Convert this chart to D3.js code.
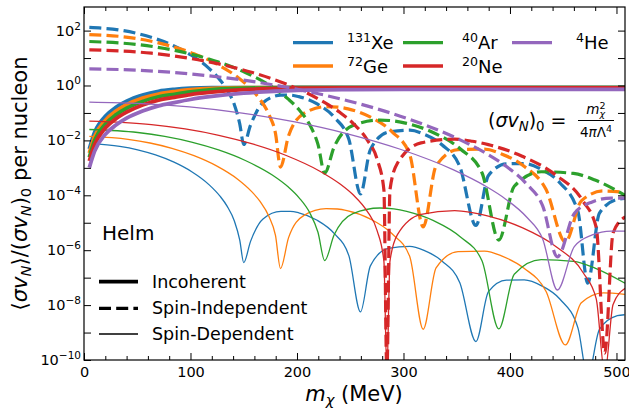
<!DOCTYPE html>
<html><head><meta charset="utf-8">
<script src="https://cdn.jsdelivr.net/npm/d3@7"></script>
<style>
body{margin:0;background:#fff;}
svg{display:block;font-family:"DejaVu Sans",sans-serif;}
</style></head><body>
<svg id="chart" width="629" height="411"></svg>
<script>
// ---------------- data ----------------
const massNumbers = ["131", "72", "40", "20", "4"];
const elements = ["Xe", "Ge", "Ar", "Ne", "He"];
const xMajorTicks = [0, 100, 200, 300, 400, 500];
const yTickExponents = [-10, -9, -8, -7, -6, -5, -4, -3, -2, -1, 0, 1, 2];
const styleLabels = ["Incoherent", "Spin-Independent", "Spin-Dependent"];

// [m_chi (MeV), <sigma v_N>/(sigma v_N)_0]
const xeIncoherent = [[5,4.90e-3],[10,2.00e-2],[15,4.37e-2],[20,7.59e-2],[30,1.62e-1],[40,2.69e-1],[55,4.47e-1],[70,6.17e-1],[85,7.24e-1],[100,7.94e-1],[120,8.32e-1],[150,8.41e-1],[250,8.51e-1],[400,8.51e-1],[508,8.51e-1]];
const geIncoherent = [[5,3.47e-3],[10,1.38e-2],[20,5.37e-2],[30,1.17e-1],[40,2.00e-1],[55,3.47e-1],[70,4.90e-1],[85,6.03e-1],[100,7.00e-1],[120,7.85e-1],[150,8.32e-1],[250,8.41e-1],[508,8.41e-1]];
const arIncoherent = [[5,2.45e-3],[10,1.00e-2],[20,3.89e-2],[30,8.51e-2],[40,1.48e-1],[55,2.63e-1],[70,3.89e-1],[85,4.79e-1],[100,5.82e-1],[120,7.08e-1],[150,7.94e-1],[200,8.32e-1],[508,8.32e-1]];
const neIncoherent = [[5,1.78e-3],[10,7.08e-3],[20,2.82e-2],[30,6.17e-2],[40,1.07e-1],[55,1.95e-1],[70,2.95e-1],[85,3.72e-1],[100,4.68e-1],[120,5.75e-1],[150,7.08e-1],[200,7.94e-1],[250,8.13e-1],[508,8.22e-1]];
const heIncoherent = [[5,1.02e-3],[10,4.07e-3],[20,1.66e-2],[30,3.63e-2],[40,6.46e-2],[55,1.17e-1],[70,1.82e-1],[85,2.40e-1],[100,3.09e-1],[120,3.98e-1],[150,5.25e-1],[200,6.61e-1],[250,7.08e-1],[300,7.24e-1],[508,7.24e-1]];

const xeSI = [[5,1.30e2],[33.6,1.045e2],[50.4,7.80e1],[67.2,5.08e1],[84,2.82e1],[100.8,1.265e1],[117.6,4.12],[127.7,1.60],[134.5,6.81e-1],[141.2,2.00e-1],[146.2,4.11e-2],[150,7.08e-3],[156.3,3.52e-2],[168.1,2.37e-1],[184.9,4.43e-1],[193.6,4.46e-1],[201.7,3.94e-1],[218.5,2.17e-1],[235.3,6.75e-2],[248.7,1.09e-2],[259.6,1.12e-4],[268.9,4.62e-3],[285.7,2.00e-2],[305.9,2.37e-2],[319.3,1.69e-2],[336.1,6.92e-3],[352.9,1.11e-3],[368,7.94e-6],[379.8,5.30e-4],[396.6,1.40e-3],[413.4,1.43e-3],[430.2,8.49e-4],[447,2.82e-4],[463.8,2.55e-5],[473,6.31e-8],[484,2.23e-5],[500.8,7.06e-5],[507.5,7.64e-5]];
const geSI = [[5,7.19e1],[41.3,5.68e1],[62,4.17e1],[82.6,2.66e1],[103.3,1.435e1],[124,6.24],[144.6,1.95],[157,7.38e-1],[165.3,3.09e-1],[173.6,8.89e-2],[179.8,1.80e-2],[184.5,1.07e-3],[192.1,1.49e-2],[206.6,9.64e-2],[227.3,1.69e-1],[238,1.64e-1],[247.9,1.41e-1],[268.6,7.19e-2],[289.3,2.06e-2],[305.8,3.10e-3],[318.5,7.08e-6],[330.6,1.18e-3],[351.2,4.61e-3],[376,4.81e-3],[392.6,3.15e-3],[413.2,1.14e-3],[433.9,1.62e-4],[452,2.00e-6],[467,6.27e-5],[487.6,1.44e-4],[507.8,1.28e-4]];
const arSI = [[5,4.00e1],[50.5,3.10e1],[75.8,2.23e1],[101,1.38e1],[126.3,7.16],[151.5,2.96],[176.8,8.75e-1],[191.9,3.18e-1],[202,1.30e-1],[212.1,3.62e-2],[219.7,7.18e-3],[226,6.46e-4],[234.8,5.68e-3],[252.5,3.46e-2],[277.8,5.52e-2],[290.9,5.11e-2],[303,4.16e-2],[328.3,1.91e-2],[353.5,4.84e-3],[373.7,6.61e-4],[389.5,2.34e-6],[404,2.13e-4],[429.3,7.21e-4],[459.6,6.25e-4],[479.8,3.59e-4],[508,1.00e-4]];
const neSI = [[5,2.00e1],[63.3,1.50e1],[94.9,1.04e1],[126.6,6.11],[158.2,2.96],[189.9,1.13],[221.5,3.02e-1],[240.5,1.03e-1],[253.2,3.99e-2],[265.8,1.06e-2],[275.3,2.02e-3],[281.6,1.58e-4],[284.4,3.16e-11],[287.3,1.58e-4],[294.3,1.47e-3],[316.5,8.11e-3],[348.1,1.11e-2],[364.6,9.33e-3],[379.7,7.00e-3],[411.4,2.65e-3],[443,5.50e-4],[468.4,6.28e-5],[481,6.73e-6],[489,1.78e-10],[496.8,4.24e-6],[508.2,1.64e-5]];
const heSI = [[5,4.00],[50,3.61],[99,2.66],[148.5,1.59],[198,7.55e-1],[247.5,2.79e-1],[297,7.62e-2],[346.5,1.38e-2],[376.2,3.61e-3],[396,1.16e-3],[415.8,2.53e-4],[430.7,4.12e-5],[444.5,5.75e-7],[460.4,2.17e-5],[477.2,5.75e-5],[495,7.94e-5],[508,7.93e-5]];

const xeSD = [[5,7.59e-3],[33.6,6.08e-3],[50.4,4.54e-3],[67.2,2.96e-3],[84,1.64e-3],[100.8,7.36e-4],[117.6,2.40e-4],[127.7,9.31e-5],[134.5,3.96e-5],[141.2,1.16e-5],[146.2,2.39e-6],[150,3.55e-7],[156.3,2.05e-6],[168.1,1.38e-5],[184.9,2.58e-5],[193.6,2.59e-5],[201.7,2.30e-5],[218.5,1.26e-5],[235.3,3.93e-6],[248.7,6.35e-7],[259.6,5.62e-9],[268.9,2.69e-7],[285.7,1.16e-6],[305.9,1.38e-6],[319.3,9.86e-7],[336.1,4.03e-7],[352.9,6.47e-8],[368,4.68e-10],[379.8,3.08e-8],[396.6,8.13e-8],[413.4,8.30e-8],[430.2,4.94e-8],[447,1.64e-8],[463.8,1.48e-9],[473,2.51e-11],[484,1.30e-9],[500.8,4.11e-9],[507.5,4.45e-9]];
const geSD = [[5,1.39e-2],[41.3,1.09e-2],[62,8.04e-3],[82.6,5.13e-3],[103.3,2.77e-3],[124,1.20e-3],[144.6,3.77e-4],[157,1.42e-4],[165.3,5.96e-5],[173.6,1.71e-5],[179.8,3.47e-6],[184.5,2.14e-7],[192.1,2.87e-6],[206.6,1.86e-5],[227.3,3.26e-5],[238,3.17e-5],[247.9,2.71e-5],[268.6,1.39e-5],[289.3,3.96e-6],[305.8,5.98e-7],[318.5,1.32e-9],[330.6,2.27e-7],[351.2,8.89e-7],[376,9.27e-7],[392.6,6.07e-7],[413.2,2.20e-7],[433.9,3.13e-8],[452,3.55e-10],[467,1.21e-8],[487.6,2.77e-8],[507.8,2.47e-8]];
const arSD = [[5,2.50e-2],[50.5,1.94e-2],[75.8,1.39e-2],[101,8.63e-3],[126.3,4.48e-3],[151.5,1.85e-3],[176.8,5.47e-4],[191.9,1.99e-4],[202,8.11e-5],[212.1,2.26e-5],[219.7,4.49e-6],[226,4.17e-7],[234.8,3.55e-6],[252.5,2.16e-5],[277.8,3.45e-5],[290.9,3.19e-5],[303,2.60e-5],[328.3,1.19e-5],[353.5,3.03e-6],[373.7,4.13e-7],[389.5,1.35e-9],[404,1.33e-7],[429.3,4.51e-7],[459.6,3.91e-7],[479.8,2.24e-7],[508,6.31e-8]];
const neSD = [[5,5.00e-2],[63.3,3.76e-2],[94.9,2.61e-2],[126.6,1.53e-2],[158.2,7.41e-3],[189.9,2.82e-3],[221.5,7.55e-4],[240.5,2.57e-4],[253.2,9.98e-5],[265.8,2.65e-5],[275.3,5.06e-6],[281.6,3.98e-7],[284.4,3.16e-11],[287.3,3.98e-7],[294.3,3.68e-6],[316.5,2.03e-5],[348.1,2.77e-5],[364.6,2.33e-5],[379.7,1.75e-5],[411.4,6.62e-6],[443,1.37e-6],[468.4,1.57e-7],[481,1.68e-8],[489,3.16e-11],[496.8,1.06e-8],[508.2,4.11e-8]];
const heSD = [[5,2.50e-1],[50,2.25e-1],[99,1.66e-1],[148.5,9.93e-2],[198,4.72e-2],[247.5,1.74e-2],[297,4.76e-3],[346.5,8.63e-4],[376.2,2.25e-4],[396,7.24e-5],[415.8,1.58e-5],[430.7,2.58e-6],[444.5,3.55e-8],[460.4,1.36e-6],[477.2,3.60e-6],[495,4.97e-6],[508,4.95e-6]];

// ---------------- styles ----------------
const colors = ["#1f77b4", "#ff7f0e", "#2ca02c", "#d62728", "#9467bd"];
const incoherentSets = [xeIncoherent, geIncoherent, arIncoherent, neIncoherent, heIncoherent];
const siSets = [xeSI, geSI, arSI, neSI, heSI];
const sdSets = [xeSD, geSD, arSD, neSD, heSD];

const W = 629, H = 411;
const L = 84, R = 625, T = 7, B = 360;
const svg = d3.select("#chart");
svg.append("rect").attr("width", W).attr("height", H).attr("fill", "#fff");

const x = d3.scaleLinear().domain([0, 508]).range([L, R]);
const y = d3.scaleLog().domain([1e-10, 724]).range([B, T]);

svg.append("defs").append("clipPath").attr("id", "clip")
  .append("rect").attr("x", L).attr("y", T).attr("width", R - L).attr("height", B - T);

const line = d3.line().x(d => x(d[0])).y(d => y(d[1])).curve(d3.curveMonotoneX);
const plot = svg.append("g").attr("clip-path", "url(#clip)");

const thick = 3.8, dashW = 3.2, thin = 1.3, dashPat = "12,5.2";
for (let i = 0; i < 5; i++) {
  plot.append("path").attr("d", line(incoherentSets[i])).attr("fill", "none")
    .attr("stroke", colors[i]).attr("stroke-width", thick).attr("stroke-linejoin", "round");
  plot.append("path").attr("d", line(siSets[i])).attr("fill", "none")
    .attr("stroke", colors[i]).attr("stroke-width", dashW).attr("stroke-dasharray", dashPat);
  plot.append("path").attr("d", line(sdSets[i])).attr("fill", "none")
    .attr("stroke", colors[i]).attr("stroke-width", thin).attr("stroke-linejoin", "round");
}

// ---------------- axes ----------------
const xMinor = d3.range(0, 508, 20).filter(v => v % 100 !== 0);
const yTicks = yTickExponents.map(e => Math.pow(10, e));

function styleAxis(g) {
  g.select(".domain").remove();
  g.selectAll(".tick line").attr("stroke", "#000").attr("stroke-width", 1);
  g.attr("font-family", null).attr("font-size", null);
}
const gxb = svg.append("g").attr("transform", `translate(0,${B})`)
  .call(d3.axisBottom(x).tickValues(xMajorTicks).tickSizeInner(-7).tickSizeOuter(0).tickPadding(7).tickFormat(d3.format("d")));
styleAxis(gxb);
gxb.selectAll(".tick text").attr("font-size", 14.5).attr("fill", "#000");
svg.append("g").attr("transform", `translate(0,${B})`)
  .call(d3.axisBottom(x).tickValues(xMinor).tickSizeInner(-4).tickSizeOuter(0).tickFormat(""))
  .call(styleAxis);
svg.append("g").attr("transform", `translate(0,${T})`)
  .call(d3.axisTop(x).tickValues(xMajorTicks).tickSizeInner(-7).tickSizeOuter(0).tickFormat(""))
  .call(styleAxis);
svg.append("g").attr("transform", `translate(0,${T})`)
  .call(d3.axisTop(x).tickValues(xMinor).tickSizeInner(-4).tickSizeOuter(0).tickFormat(""))
  .call(styleAxis);
const gyl = svg.append("g").attr("transform", `translate(${L},0)`)
  .call(d3.axisLeft(y).tickValues(yTicks).tickSizeInner(-7).tickSizeOuter(0).tickFormat(""))
  .call(styleAxis);
svg.append("g").attr("transform", `translate(${R},0)`)
  .call(d3.axisRight(y).tickValues(yTicks).tickSizeInner(-7).tickSizeOuter(0).tickFormat(""))
  .call(styleAxis);

// y tick labels with superscripts (every second decade)
yTickExponents.filter(e => e % 2 === 0).forEach(e => {
  const t = svg.append("text").attr("x", L - 3).attr("y", y(Math.pow(10, e)) + 5)
    .attr("text-anchor", "end").attr("font-size", 14.5).attr("fill", "#000");
  t.append("tspan").text("10");
  t.append("tspan").attr("font-size", 10.5).attr("dy", -6).text(e < 0 ? "\u2212" + (-e) : String(e));
});

// frame
svg.append("rect").attr("x", L).attr("y", T).attr("width", R - L).attr("height", B - T)
  .attr("fill", "none").attr("stroke", "#000").attr("stroke-width", 1.2);

// ---------------- rich text helper ----------------
function rich(parent, px, py, parts, size, anchor) {
  const t = parent.append("text").attr("x", px).attr("y", py)
    .attr("text-anchor", anchor || "start").attr("font-size", size).attr("fill", "#000");
  let cur = 0;
  parts.forEach(p => {
    const sh = p.sh || 0;
    const ts = t.append("tspan").text(p.t).attr("dy", cur - sh);
    if (p.dx) ts.attr("dx", p.dx);
    if (p.s) ts.attr("font-size", p.s);
    if (p.i) ts.attr("font-style", "italic");
    cur = sh;
  });
  return t;
}

// axis titles
rich(svg, 354, 401, [{t: "m", i: 1}, {t: "\u03c7", i: 1, s: 14.7, sh: -4}, {t: " (MeV)"}], 21, "middle");
const yl = svg.append("g").attr("transform", `translate(27,${(T + B) / 2}) rotate(-90)`);
rich(yl, 0, 0, [{t: "\u27e8"}, {t: "\u03c3v", i: 1}, {t: "N", i: 1, s: 14.7, sh: -4}, {t: "\u27e9/("},
  {t: "\u03c3v", i: 1}, {t: "N", i: 1, s: 14.7, sh: -4}, {t: ")"}, {t: "0", s: 14.7, sh: -4}, {t: " per nucleon"}], 21, "middle");

// formula
rich(svg, 488, 127, [{t: "("}, {t: "\u03c3v", i: 1}, {t: "N", i: 1, s: 13.3, sh: -4}, {t: ")"}, {t: "0", s: 13.3, sh: -4}, {t: " ="}], 19);
rich(svg, 596, 114, [{t: "m", i: 1}, {t: "\u03c7", i: 1, s: 9.5, sh: -3}, {t: "2", s: 9.5, sh: 5, dx: -5.5}], 13.5, "middle");
svg.append("line").attr("x1", 578).attr("x2", 614).attr("y1", 120.5).attr("y2", 120.5).attr("stroke", "#000").attr("stroke-width", 1);
rich(svg, 596, 137, [{t: "4"}, {t: "\u03c0", i: 1}, {t: "\u039b"}, {t: "4", s: 9.5, sh: 5}], 13.5, "middle");

// ---------------- nucleus legend ----------------
const legCols = [[293, 347], [403, 462], [512, 576]];
const legRows = [42.7, 66];
const legOrder = [[0, 0, 0], [1, 0, 1], [2, 1, 0], [3, 1, 1], [4, 2, 0]]; // [index, col, row]
legOrder.forEach(([i, c, r]) => {
  const ly = legRows[r];
  svg.append("line").attr("x1", legCols[c][0]).attr("x2", legCols[c][0] + 40).attr("y1", ly).attr("y2", ly)
    .attr("stroke", colors[i]).attr("stroke-width", 3.3);
  rich(svg, legCols[c][1], ly + 6.6, [{t: massNumbers[i], s: 12.6, sh: 7}, {t: elements[i]}], 18);
});

// ---------------- style legend ----------------
svg.append("text").attr("x", 102).attr("y", 240).attr("font-size", 20).attr("fill", "#000").text("Helm");
const styleRows = [281.7, 308.3, 334];
const styleStroke = [thick, dashW, thin];
styleLabels.forEach((lab, k) => {
  const ly = styleRows[k];
  const ln = svg.append("line").attr("x1", 99).attr("x2", 138).attr("y1", ly).attr("y2", ly)
    .attr("stroke", "#000").attr("stroke-width", styleStroke[k]);
  if (k === 1) ln.attr("stroke-dasharray", dashPat);
  svg.append("text").attr("x", 152).attr("y", ly + 6).attr("font-size", 17.5).attr("fill", "#000").text(lab);
});
</script>
</body></html>
